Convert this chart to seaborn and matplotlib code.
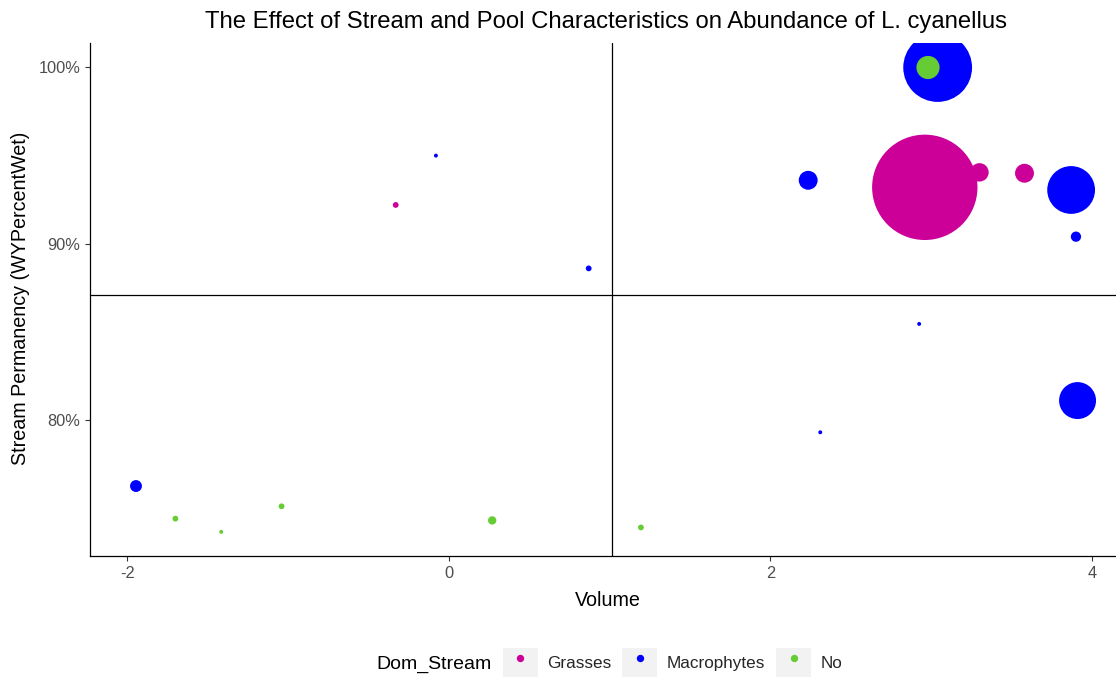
import matplotlib
matplotlib.use("Agg")
import matplotlib.pyplot as plt
from matplotlib.ticker import PercentFormatter
from matplotlib.patches import Rectangle
from matplotlib.lines import Line2D
from matplotlib.legend_handler import HandlerTuple
import seaborn as sns
import pandas as pd

# Pool volume (standardised), stream permanency (% of water year wet),
# L. cyanellus abundance and dominant stream vegetation for each site
volume = [-0.33, -0.08, 0.87, 2.235, 2.96, 3.30, 3.58, 3.87, 3.90, 3.04, 2.98,
          2.925, 3.91, 2.31, -1.945, -1.70, -1.415, -1.04, 0.27, 1.195]
wet_pct = [92.2, 95.0, 88.6, 93.6, 93.2, 94.05, 94.0, 93.05, 90.4, 100.0, 100.0,
           85.45, 81.1, 79.3, 76.25, 74.4, 73.65, 75.1, 74.3, 73.9]
abundance = [2, 1, 2, 20, 617, 19, 20, 127, 6, 263, 30,
             1, 76, 1, 8, 2, 1, 2, 4, 2]
dom_stream = ["Grasses", "Macrophytes", "Macrophytes", "Macrophytes", "Grasses",
              "Grasses", "Grasses", "Macrophytes", "Macrophytes", "Macrophytes", "No",
              "Macrophytes", "Macrophytes", "Macrophytes", "Macrophytes", "No",
              "No", "No", "No", "No"]

categories = ["Grasses", "Macrophytes", "No"]
colors = ["#CC0099", "#0000FF", "#66CC33"]
palette = dict(zip(categories, colors))

# quadrant reference lines
volume_ref = 1.015
wet_ref = 87.1

df = pd.DataFrame({"Volume": volume, "WYPercentWet": wet_pct,
                   "Abundance": abundance, "Dom_Stream": dom_stream})

sns.set_style("white")
plt.rcParams["font.family"] = ["Liberation Sans", "DejaVu Sans"]
plt.rcParams["axes.unicode_minus"] = False

W, H = 1116, 677
fig = plt.figure(figsize=(W / 100, H / 100), dpi=100)
ax = fig.add_axes([90 / W, 1 - 556 / H, 1 - 90 / W, (556 - 43) / H])

sns.scatterplot(data=df, x="Volume", y="WYPercentWet", hue="Dom_Stream",
                size="Abundance", palette=palette, hue_order=categories,
                sizes=(8, 5756), size_norm=(1, 617), linewidth=0,
                alpha=1, legend=False, ax=ax, zorder=3)

ax.axvline(volume_ref, color="black", lw=0.9, zorder=2)
ax.axhline(wet_ref, color="black", lw=0.9, zorder=2)

ax.set_xlim(-2.231, 4.149)
ax.set_ylim(72.28, 101.39)
ax.set_xticks([-2, 0, 2, 4])
ax.set_yticks([80, 90, 100])
ax.yaxis.set_major_formatter(PercentFormatter(decimals=0))

for side in ["top", "right"]:
    ax.spines[side].set_visible(False)
for side in ["left", "bottom"]:
    ax.spines[side].set_color("black")
    ax.spines[side].set_linewidth(0.9)

ax.tick_params(axis="both", which="major", length=3.5, width=0.8, color="#333333",
               labelsize=11.8, labelcolor="#4D4D4D", pad=3.5, bottom=True, left=True)
ax.set_xlabel("")
ax.set_ylabel("")

fig.text(606 / W, 1 - 28.3 / H,
         "The Effect of Stream and Pool Characteristics on Abundance of L. cyanellus",
         ha="center", va="baseline", fontsize=17.2, color="black")
fig.text(608 / W, 1 - 606 / H, "Volume", ha="center", va="baseline",
         fontsize=14.2, color="black")
fig.text(21 / W, 1 - 298 / H, "Stream Permanency (WYPercentWet)",
         ha="center", va="center", rotation=90, fontsize=14.2, color="black")

# legend for dominant stream vegetation
fig.text(376 / W, 1 - 669 / H, "Dom_Stream", ha="left", va="baseline",
         fontsize=14, color="black")
handles = []
for cat in categories:
    bg = Rectangle((0, 0), 1, 1, facecolor="#F2F2F2", edgecolor="none")
    dot = Line2D([], [], marker="o", linestyle="none", markersize=5.3,
                 markerfacecolor=palette[cat], markeredgewidth=0)
    handles.append((bg, dot))
fig.legend(handles, categories, handler_map={tuple: HandlerTuple(ndivide=1)},
           loc="center left", bbox_to_anchor=(502.7 / W, 1 - 663 / H),
           ncol=3, frameon=False, handlelength=2.05, handleheight=2.4,
           handletextpad=0.55, columnspacing=0.64, fontsize=12.3,
           borderpad=0, borderaxespad=0)

fig.savefig("out.png", dpi=100)
